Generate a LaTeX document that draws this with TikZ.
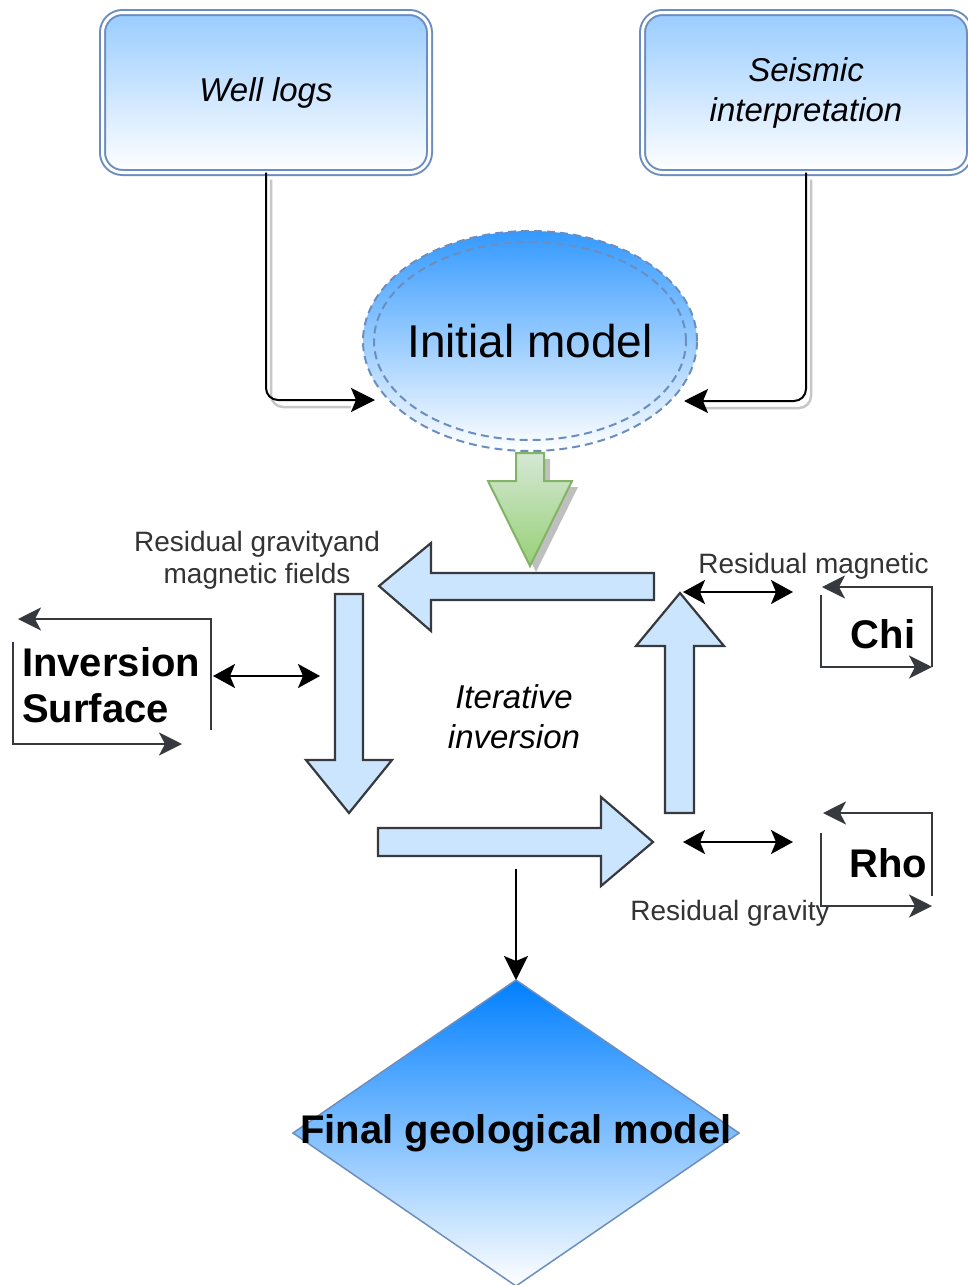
\documentclass[tikz,border=0pt]{standalone}
\usepackage{fontspec}
\setmainfont{Liberation Sans}
\usetikzlibrary{shapes.geometric,arrows.meta}

\definecolor{boxline}{HTML}{6C8EBF}
\definecolor{boxtop}{HTML}{99CCFF}
\definecolor{elltop}{HTML}{3399FF}
\definecolor{diatop}{HTML}{007FFF}
\definecolor{blockfill}{HTML}{CCE5FF}
\definecolor{blockline}{HTML}{36393D}
\definecolor{greenline}{HTML}{82B366}
\definecolor{greentop}{HTML}{D5E8D4}
\definecolor{greenbot}{HTML}{97D077}
\definecolor{labeltext}{HTML}{333333}

\newcommand{\itfont}{\fontsize{33}{40}\selectfont\itshape}
\newcommand{\lblfont}{\fontsize{28}{32}\selectfont}
\newcommand{\bigbold}{\fontsize{40}{46}\selectfont\bfseries}

\tikzset{
  srcbox/.style={rounded corners=20pt, draw=boxline, double=white,
    double distance=3pt, line width=2pt, top color=boxtop,
    bottom color=white, minimum width=327pt, minimum height=160pt,
    outer sep=0pt, align=center, font=\itfont},
  initell/.style={ellipse, draw=boxline, dash pattern=on 8pt off 5pt,
    line width=2pt, top color=elltop, bottom color=white,
    minimum width=334pt, minimum height=220pt, inner sep=0pt,
    outer sep=0pt},
  dashline/.style={draw=boxline, dash pattern=on 8pt off 5pt,
    line width=2pt},
  conn/.style={draw=black, line width=2pt, rounded corners=12pt,
    arrows={-Stealth[length=24pt,width=24pt,inset=5pt]}},
  shadeline/.style={draw=black!22, line width=2.5pt, rounded corners=12pt},
  dblarrow/.style={draw=black, line width=2pt,
    arrows={Stealth[length=22pt,width=24pt,inset=5pt]-Stealth[length=22pt,width=24pt,inset=5pt]}},
  bracket/.style={draw=blockline, line width=2pt,
    arrows={-Stealth[length=23pt,width=23pt,inset=6pt]}},
  blockarrow/.style={fill=blockfill, draw=blockline, line width=2.2pt,
    line join=miter},
  greenarrow/.style={top color=greentop, bottom color=greenbot,
    draw=greenline, line width=2pt},
  lbl/.style={text=labeltext, font=\lblfont, inner sep=0pt, align=center},
  itlbl/.style={font=\itfont, inner sep=0pt, align=center},
  boldlbl/.style={font=\bigbold, inner sep=0pt, align=left}
}

\begin{document}
\begin{tikzpicture}[x=1pt,y=-1pt]
  \useasboundingbox (0,0) rectangle (968,1285);
  % Sources
  \node[srcbox] (well) at (266,92.5) {Well logs};
  \node[srcbox] (seis) at (806,92.5) {Seismic\\interpretation};
  % Initial model
  \node[initell] (init) at (530,341) {};
  \draw[dashline] (init.center) ellipse [x radius=156pt, y radius=99pt];
  \node[font=\fontsize{46}{50}\selectfont, inner sep=0pt] (inittxt) at (init.center) {Initial model};
  \coordinate (inL) at (375,400);
  \coordinate (inR) at (684,401);
  \draw[shadeline] ([shift={(5,7)}]well.south) |- ([shift={(-24,7)}]inL);
  \draw[shadeline] ([shift={(5,7)}]seis.south) |- ([shift={(22,7)}]inR);
  \draw[conn] (well.south) |- (inL);
  \draw[conn] (seis.south) |- (inR);
  % Green arrow
  \fill[black!25] (522,459) -- (550,459) -- (550,487) -- (578,487)
    -- (536,572) -- (494,487) -- (522,487) -- cycle;
  \draw[greenarrow] (516,453) -- (544,453) -- (544,481) -- (572,481)
    -- (530,566) -- (488,481) -- (516,481) -- cycle;
  % Iteration loop
  \draw[blockarrow] (654,573) -- (431,573) -- (431,543) -- (379,586)
    -- (431,631) -- (431,600) -- (654,600) -- cycle;
  \draw[blockarrow] (335,594) -- (363,594) -- (363,760) -- (392,760)
    -- (349,813) -- (306,760) -- (335,760) -- cycle;
  \draw[blockarrow] (378,828) -- (601,828) -- (601,797) -- (653,842)
    -- (601,886) -- (601,856) -- (378,856) -- cycle;
  \draw[blockarrow] (665,813) -- (665,646) -- (636,646) -- (680,593)
    -- (724,646) -- (694,646) -- (694,813) -- cycle;
  \node[itlbl] (iter) at (514,717) {Iterative\\inversion};
  % Labels
  \node[lbl] (resgm) at (257,560.5) {Residual gravityand\\magnetic fields};
  \node[lbl, anchor=base] (resmag) at (813.5,573) {Residual magnetic};
  \node[lbl, anchor=base] (resgrav) at (730,920) {Residual gravity};
  % Inversion surface
  \node[boldlbl, anchor=west] (inv) at (22,685) {Inversion\\Surface};
  \draw[bracket] (211,730) |- (18,619);
  \draw[bracket] (13,642) |- (182,744);
  \coordinate (invR) at (213,676);
  \coordinate (dnL) at (320,676);
  \draw[dblarrow] (invR) -- (dnL);
  % Chi
  \node[boldlbl] (chi) at (883,634) {Chi};
  \draw[bracket] (821,595) |- (932,667);
  \draw[bracket] (932,667) |- (822,587);
  \coordinate (upR) at (683,592);
  \coordinate (chiL) at (793,592);
  \draw[dblarrow] (upR) -- (chiL);
  % Rho
  \node[boldlbl] (rho) at (888,863) {Rho};
  \draw[bracket] (821,833) |- (932,906);
  \draw[bracket] (932,896) |- (823,813);
  \coordinate (rtR) at (683,842);
  \coordinate (rhoL) at (793,842);
  \draw[dblarrow] (rtR) -- (rhoL);
  % Final model
  \node[diamond, draw=boxline, line width=1.5pt, top color=diatop,
    bottom color=white, minimum width=446pt, minimum height=306pt,
    inner sep=0pt, outer sep=0pt] (fin) at (516,1133) {};
  \node[font=\bigbold, inner sep=0pt] (fintxt) at (fin.center) {Final geological model};
  \coordinate (rtB) at (516,869);
  \draw[conn] (rtB) -- (fin.north);
\end{tikzpicture}
\end{document}
